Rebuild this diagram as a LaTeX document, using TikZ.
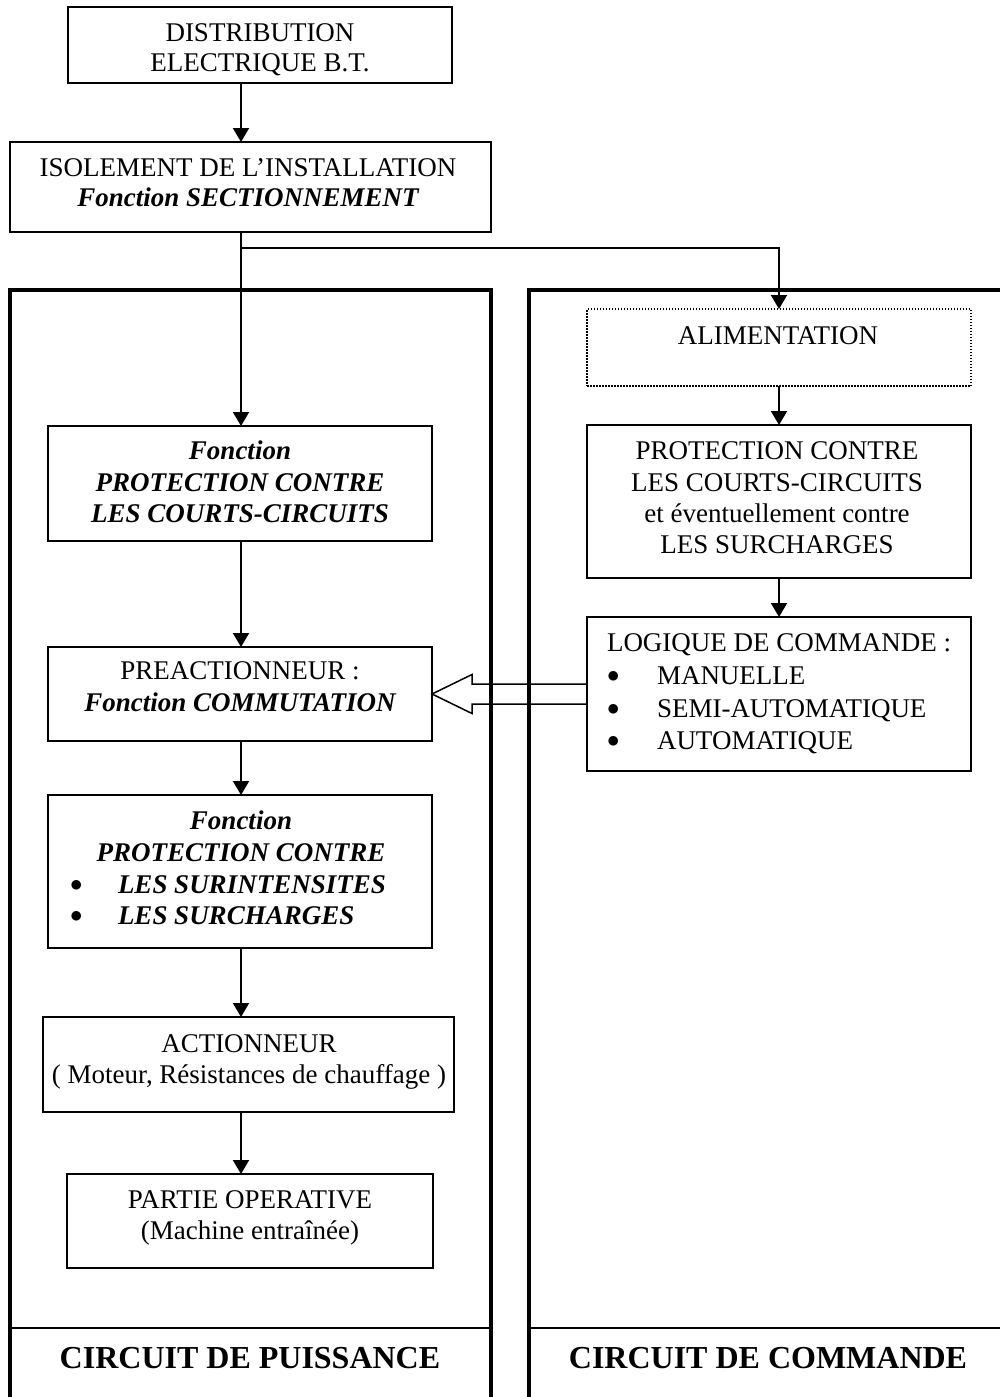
\documentclass[tikz,border=0pt]{standalone}
\usepackage{fontspec}
\setmainfont{Liberation Serif}
\usetikzlibrary{arrows.meta,calc}
% centred / left-aligned blocks of lines, first-line baseline as reference
\newcommand\mlines[2][31.5pt]{{\fontsize{27}{#1}\selectfont\begin{tabular}[t]{@{}c@{}}#2\end{tabular}}}
\newcommand\llines[2][31.5pt]{{\fontsize{27}{#1}\selectfont\begin{tabular}[t]{@{}l@{}}#2\end{tabular}}}
\newcommand\bul{\raisebox{2pt}{$\bullet$}}
\newcommand\bi{\bfseries\itshape}
\begin{document}
\begin{tikzpicture}[x=1pt,y=-1pt,
  every node/.style={font=\fontsize{27}{31.5}\selectfont, inner sep=0pt, outer sep=0pt},
  box/.style={draw, line width=2pt, minimum width=384pt},
  dotbox/.style={draw, line width=1.5pt, dash pattern=on 1.5pt off 1.5pt, minimum width=384pt},
  txt/.style={anchor=base},
  ltxt/.style={anchor=base west},
  conn/.style={line width=2pt, -{Triangle[length=14pt,width=16pt]}},
  frame/.style={line width=3.5pt, line join=miter},
  hollow/.style={line width=1.5pt, line join=miter},
  title/.style={font=\fontsize{32}{38}\selectfont\bfseries, anchor=base}]
\useasboundingbox (0,0) rectangle (1000,1397);
\clip (0,0) rectangle (1000,1397);

% outer frames of the two circuits
\draw[frame] (10,1410) -- (10,290) -- (491,290) -- (491,1410);
\draw[frame] (1010,290) -- (529,290) -- (529,1410);
\draw[line width=2pt] (10,1328) -- (491,1328);
\draw[line width=2pt] (529,1328) -- (1010,1328);
\node[title] (cp) at (250,1368.6) {CIRCUIT DE PUISSANCE};
\node[title] (cc) at (768,1368.6) {CIRCUIT DE COMMANDE};

% upstream boxes
\node[box, minimum height=76pt] (b1) at (260,45) {};
\node[txt] (t1) at (260,41.7) {\mlines[30pt]{DISTRIBUTION\\ELECTRIQUE B.T.}};
\node[box, minimum width=481pt, minimum height=90pt] (b2) at (250.5,187) {};
\node[txt] (t2) at (248,176.7) {\mlines[30pt]{ISOLEMENT DE L’INSTALLATION\\{\bi Fonction SECTIONNEMENT}}};

% power circuit
\node[box, minimum height=115pt] (b3) at (240,483.5) {};
\node[txt] (t3) at (240,459.7) {\mlines{{\bi Fonction}\\{\bi PROTECTION CONTRE}\\{\bi LES COURTS-CIRCUITS}}};
\node[box, minimum height=94pt] (b4) at (240,694) {};
\node[txt] (t4) at (240,679.7) {\mlines[32pt]{PREACTIONNEUR :\\{\bi Fonction COMMUTATION}}};
\node[box, minimum height=153pt] (b5) at (240,871.5) {};
\node[ltxt] (t5) at (70,829.7) {\llines[31.7pt]{\makebox[342pt]{\bi Fonction}\\\makebox[342pt]{\bi PROTECTION CONTRE}\\\makebox[48pt][l]{\bul}{\bi LES SURINTENSITES}\\\makebox[48pt][l]{\bul}{\bi LES SURCHARGES}}};
\node[box, minimum width=411pt, minimum height=95pt] (b6) at (248.5,1064.5) {};
\node[txt] (t6) at (249,1052.7) {\mlines[31pt]{ACTIONNEUR\\( Moteur, Résistances de chauffage )}};
\node[box, minimum width=366pt, minimum height=94pt] (b7) at (250,1221) {};
\node[txt] (t7) at (250,1208.7) {\mlines[31pt]{PARTIE OPERATIVE\\(Machine entraînée)}};

% control circuit
\node[dotbox, minimum height=77pt] (al) at (779,347.5) {};
\node[txt] (tal) at (778,344.7) {ALIMENTATION};
\node[box, minimum height=153pt] (rp) at (779,501.5) {};
\node[txt] (trp) at (777,459.7) {\mlines[31.3pt]{PROTECTION CONTRE\\LES COURTS-CIRCUITS\\et éventuellement contre\\LES SURCHARGES}};
\node[box, minimum height=154pt] (lg) at (779,694) {};
\node[ltxt] (tlg) at (607,651.7) {\llines[32.7pt]{LOGIQUE DE COMMANDE :\\\makebox[50pt][l]{\bul}MANUELLE\\\makebox[50pt][l]{\bul}SEMI-AUTOMATIQUE\\\makebox[50pt][l]{\bul}AUTOMATIQUE}};

% connectors
\coordinate (sp) at (241,0);
\coordinate (j) at ($(b2.south -| sp)+(0,16)$);
\draw[conn] (b1.south -| sp) -- (b2.north -| sp);
\draw[conn] (b2.south -| sp) -- (b3.north -| sp);
\draw[conn] (j) -| (al.north);
\draw[conn] (al.south) -- (rp.north);
\draw[conn] (rp.south) -- (lg.north);
\draw[conn] (b3.south -| sp) -- (b4.north -| sp);
\draw[conn] (b4.south -| sp) -- (b5.north -| sp);
\draw[conn] (b5.south -| sp) -- (b6.north -| sp);
\draw[conn] (b6.south -| sp) -- (b7.north -| sp);

% command signal: hollow arrow from the control logic to the pre-actuator
\draw[hollow] ($(lg.west)+(0,-10)$) -- ($(b4.east)+(40,-10)$) -- ($(b4.east)+(40,-19.5)$)
  -- (b4.east) -- ($(b4.east)+(40,19.5)$) -- ($(b4.east)+(40,10)$) -- ($(lg.west)+(0,10)$);
\end{tikzpicture}
\end{document}
